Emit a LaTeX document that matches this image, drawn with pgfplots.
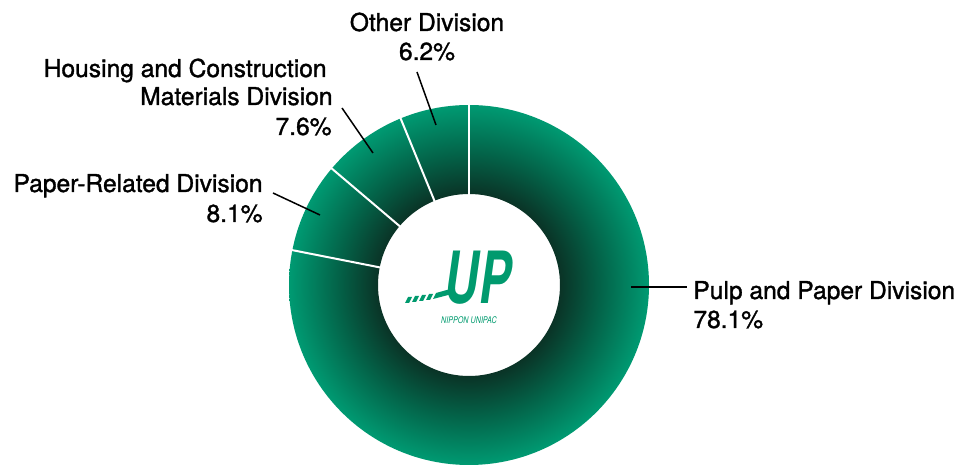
\documentclass[border=0pt]{standalone}
\usepackage{pgfplots}
\pgfplotsset{compat=1.18}
\usepackage{pgfplotstable}
\usepackage{fontspec}
\setmainfont{TeX Gyre Heros}
\newfontfamily\medfont[FakeBold=1.3]{TeX Gyre Heros}
\definecolor{ringdark}{HTML}{0A3326}
\definecolor{ringmid}{HTML}{03654A}
\definecolor{ringgreen}{HTML}{009A72}
\definecolor{logogreen}{HTML}{009A6E}
\pgfdeclareradialshading{ring}{\pgfpoint{0bp}{0bp}}{color(0bp)=(ringdark); color(12.6bp)=(ringdark); color(18.5bp)=(ringmid); color(25bp)=(ringgreen); color(50bp)=(ringgreen)}

\pgfplotstableread{
label value
Pulp 78.1
Paper 8.1
Housing 7.6
Other 6.2
}\datatable

% separator angles (clockwise from top)
\xdef\cum{0}
\pgfplotstableforeachcolumnelement{value}\of\datatable\as\v{%
  \pgfmathsetmacro\tmp{\cum+\v}\xdef\cum{\tmp}%
  \pgfmathsetmacro\ang{90-3.6*\cum}%
  \expandafter\xdef\csname sep\pgfplotstablerow\endcsname{\ang}%
}

\newcommand\lbl{\medfont\fontsize{12.3}{15}\selectfont}

\begin{document}
\begin{tikzpicture}
\begin{axis}[
  scale only axis, width=480pt, height=233pt,
  xmin=0, xmax=960, ymin=0, ymax=466,
  hide axis, clip=false]
% ring
\shade[shading=ring, even odd rule] (axis cs:469,181) circle[radius=90pt]
      (axis cs:469,181) circle[radius=45.5pt];
% separators
\pgfplotsinvokeforeach{0,1,2,3}{
  \draw[white, line width=1pt] (axis cs:469,181) ++(\csname sep#1\endcsname:45pt) -- ++(\csname sep#1\endcsname:45.5pt);
}
% leader lines
\draw[black, line width=0.75pt] (axis cs:631,179) -- (axis cs:687,179);
\draw[black, line width=0.75pt] (axis cs:273,273) -- (axis cs:320,251);
\draw[black, line width=0.75pt] (axis cs:342,358) -- (axis cs:373,313);
\draw[black, line width=0.75pt] (axis cs:417,394) -- (axis cs:436,341);
% labels
\node[anchor=base west, font=\lbl, inner sep=0] at (axis cs:693,167) {Pulp and Paper Division};
\node[anchor=base west, font=\lbl, inner sep=0] at (axis cs:693,138) {78.1\%};
\node[anchor=base east, font=\lbl, inner sep=0] at (axis cs:263,274) {Paper-Related Division};
\node[anchor=base east, font=\lbl, inner sep=0] at (axis cs:263,244) {8.1\%};
\node[anchor=base east, font=\lbl, inner sep=0] at (axis cs:327,389) {Housing and Construction};
\node[anchor=base east, font=\lbl, inner sep=0] at (axis cs:333,361) {Materials Division};
\node[anchor=base east, font=\lbl, inner sep=0] at (axis cs:332,331) {7.6\%};
\node[anchor=base, font=\lbl, inner sep=0] at (axis cs:427,435) {Other Division};
\node[anchor=base, font=\lbl, inner sep=0] at (axis cs:427,406) {6.2\%};
% logo
\node[anchor=base, inner sep=0, text=logogreen] at (axis cs:478,162)
  {\smash{\scalebox{0.66}[1]{\fontsize{36}{36}\selectfont\bfseries\itshape UP}}};
\fill[logogreen] (axis cs:405,163) -- (axis cs:409,163) -- (axis cs:412,169) -- (axis cs:408,169) -- cycle;
\fill[logogreen] (axis cs:412,164) -- (axis cs:416,164) -- (axis cs:419,170) -- (axis cs:415,170) -- cycle;
\fill[logogreen] (axis cs:419,165) -- (axis cs:423,165) -- (axis cs:426,171) -- (axis cs:422,171) -- cycle;
\fill[logogreen] (axis cs:426,166) -- (axis cs:430,166) -- (axis cs:433,172) -- (axis cs:429,172) -- cycle;
\fill[logogreen] (axis cs:433,167) -- (axis cs:452,172) -- (axis cs:454,178) -- (axis cs:436,173) -- cycle;
\node[anchor=base, inner sep=0, text=logogreen] at (axis cs:469,142)
  {\scalebox{0.78}[1]{\fontsize{4.6}{5}\selectfont\itshape NIPPON UNIPAC}};
\end{axis}
\pgfresetboundingbox
\path[use as bounding box] (0,0) rectangle (480pt,233pt);
\end{tikzpicture}
\end{document}
